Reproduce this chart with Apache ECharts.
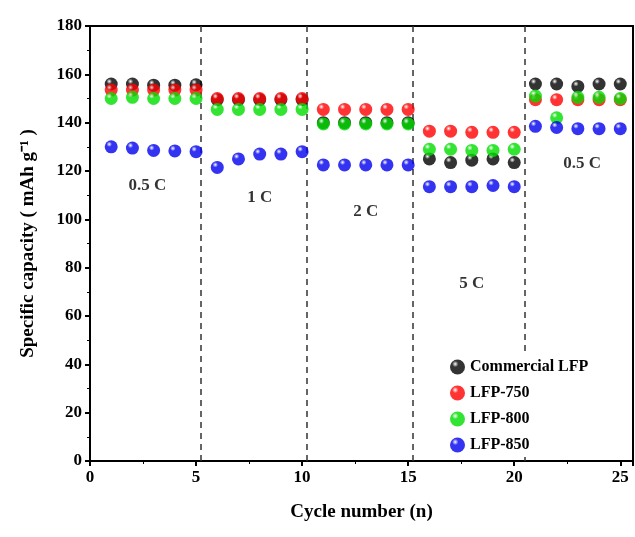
<!DOCTYPE html>
<html>
<head>
<meta charset="utf-8">
<script src="https://cdn.jsdelivr.net/npm/echarts@6/dist/echarts.min.js"></script>
<style>html,body{margin:0;padding:0;background:#fff}#chart{width:635px;height:537px}</style>
</head>
<body>
<div id="chart"></div>
<script>
var cycles = [1,2,3,4,5,6,7,8,9,10,11,12,13,14,15,16,17,18,19,20,21,22,23,24,25];
var commercial = [156,156,155.5,155.5,155.7, 149.5,149.5,149.5,149.5,149.5, 140,140,140,140,140, 125,123.5,124.5,125,123.5, 156,156,155,156,156];
var lfp750 = [153.5,153.5,153.5,153.5,153.5, 150,150,150,150,150, 145.5,145.5,145.5,145.5,145.5, 136.5,136.5,136,136,136, 149.5,149.5,149.5,149.5,149.5];
var lfp800 = [150,150.5,150,150,150, 145.5,145.5,145.5,145.5,145.5, 139.5,139.5,139.5,139.5,139.5, 129,129,128.5,128.5,129, 151,142,150.5,150.5,150];
var lfp850 = [130,129.5,128.5,128.3,128, 121.5,125,127,127,128, 122.5,122.5,122.5,122.5,122.5, 113.5,113.5,113.5,114,113.5, 138.5,138,137.5,137.5,137.5];
var seriesNames = ['Commercial LFP','LFP-750','LFP-800','LFP-850'];
var seriesColors = ['#000000','#ff0000','#00dd00','#0000ee'];
var dividers = [5.2,10.2,15.2,20.5];
var rateLabels = ['0.5 C','1 C','2 C','5 C','0.5 C'];
var rateLabelX = [2.7,8,13,18,23.2];
var rateLabelY = [114,109,103,73.5,123];

function ball(c) {
    return new echarts.graphic.RadialGradient(0.35, 0.3, 0.7, [
        {offset: 0, color: '#ffffff'},
        {offset: 0.3, color: c},
        {offset: 1, color: c}
    ]);
}
function buildSeries(name, data, color) {
    return {
        name: name, type: 'scatter', symbolSize: 13, z: 3,
        itemStyle: {color: ball(color)},
        data: cycles.map(function (x, i) { return [x, data[i]]; })
    };
}
var allData = [commercial, lfp750, lfp800, lfp850];
var series = allData.map(function (d, i) { return buildSeries(seriesNames[i], d, seriesColors[i]); });
series[0].markLine = {
    silent: true, symbol: 'none', animation: false, label: {show: false}, z: 1,
    lineStyle: {color: '#333', type: [6, 5], width: 1.5},
    data: dividers.map(function (x) { return {xAxis: x}; })
};
series.push({
    type: 'scatter', symbolSize: 0, silent: true,
    data: rateLabelX.map(function (x, i) { return {value: [x, rateLabelY[i]], name: rateLabels[i]}; }),
    label: {show: true, position: 'inside', formatter: '{b}', color: '#000',
        fontFamily: 'Liberation Serif', fontWeight: 'bold', fontSize: 17}
});
var font = 'Liberation Serif';
var chart = echarts.init(document.getElementById('chart'));
chart.setOption({
    animation: false,
    grid: {left: 90, right: 2, top: 26, bottom: 76, show: true, borderColor: '#000', borderWidth: 2},
    legend: {
        orient: 'vertical', left: 446, top: 355, itemGap: 10, z: 10,
        backgroundColor: '#fff', padding: [4, 20, 4, 4],
        data: seriesNames, itemWidth: 15, itemHeight: 15,
        textStyle: {fontFamily: font, fontWeight: 'bold', fontSize: 16, color: '#000'}
    },
    xAxis: {
        type: 'value', min: 0, max: 25.6, interval: 5,
        name: 'Cycle number (n)', nameLocation: 'middle', nameGap: 42,
        nameTextStyle: {fontFamily: font, fontWeight: 'bold', fontSize: 19, color: '#000'},
        axisLine: {onZero: false, lineStyle: {color: '#000', width: 2}},
        axisTick: {inside: false, length: 5, lineStyle: {width: 2}},
        minorTick: {show: true, splitNumber: 2, length: 3, lineStyle: {color: '#000'}},
        axisLabel: {fontFamily: font, fontWeight: 'bold', fontSize: 17, color: '#000', showMaxLabel: false},
        splitLine: {show: false}
    },
    yAxis: {
        type: 'value', min: 0, max: 180, interval: 20,
        name: 'Specific capacity ( mAh g⁻¹ )', nameLocation: 'middle', nameGap: 52,
        nameTextStyle: {fontFamily: font, fontWeight: 'bold', fontSize: 19, color: '#000'},
        axisLine: {show: true, lineStyle: {color: '#000', width: 2}},
        axisTick: {inside: false, length: 5, lineStyle: {width: 2}},
        minorTick: {show: true, splitNumber: 2, length: 3, lineStyle: {color: '#000'}},
        axisLabel: {fontFamily: font, fontWeight: 'bold', fontSize: 17, color: '#000'},
        splitLine: {show: false}
    },
    series: series
});
</script>
</body>
</html>
